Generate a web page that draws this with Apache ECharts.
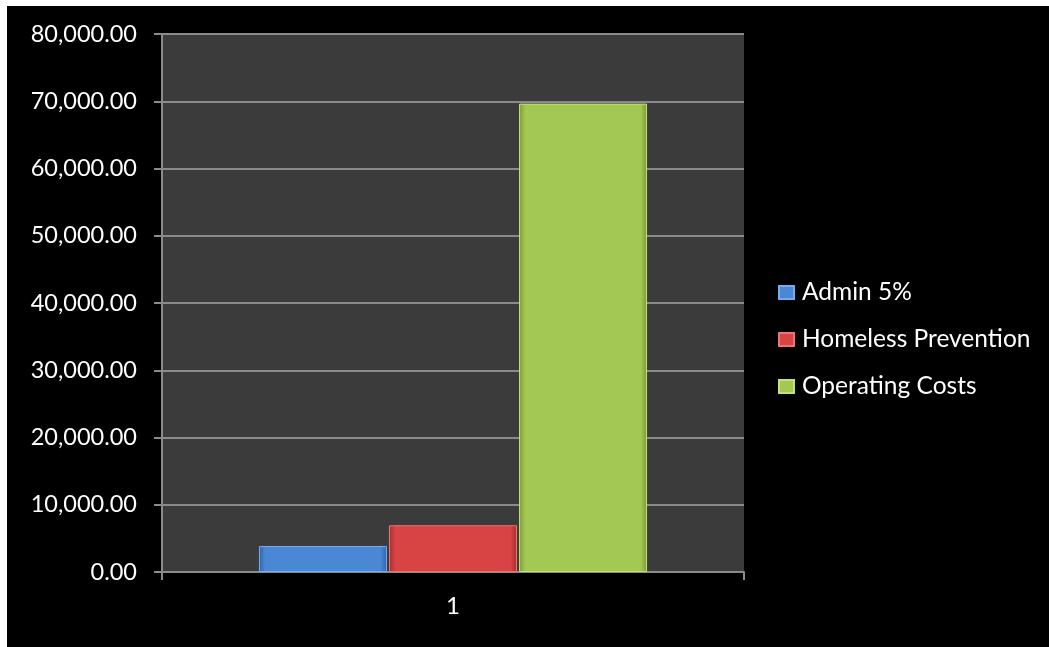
<!DOCTYPE html>
<html>
<head>
<meta charset="utf-8">
<title>Budget by category</title>
<script src="https://cdn.jsdelivr.net/npm/echarts@6/dist/echarts.min.js"></script>
<style>
  html, body { margin: 0; padding: 0; background: #000; }
  #chart { width: 1049px; height: 647px; }
</style>
</head>
<body>
<div id="chart"></div>
<script>
// Category and series values
const categories = ['1'];
const seriesNames = ['Admin 5%', 'Homeless Prevention', 'Operating Costs'];
const adminValues = [3870];
const homelessValues = [6950];
const operatingValues = [69650];

// Base, light and dark shades for each series
const palettes = [
  { base: '#4a88d6', light: '#74acf0', dark: '#2f63a8' },
  { base: '#d84444', light: '#f07272', dark: '#a82c2c' },
  { base: '#a3c854', light: '#c2e27a', dark: '#7b9a36' }
];

const FONT = 'Lato, "Open Sans", sans-serif';

function bevel(p) {
  return new echarts.graphic.LinearGradient(0, 0, 1, 0, [
    { offset: 0, color: p.dark },
    { offset: 0.05, color: p.base },
    { offset: 0.95, color: p.base },
    { offset: 1, color: p.dark }
  ]);
}

function fmt(v) {
  return Number(v).toLocaleString('en-US', { minimumFractionDigits: 2, maximumFractionDigits: 2 });
}

const valueSets = [adminValues, homelessValues, operatingValues];

const chart = echarts.init(document.getElementById('chart'), null, { renderer: 'canvas' });
chart.setOption({
  backgroundColor: '#000',
  animation: false,
  graphic: [
    { type: 'rect', shape: { x: 0, y: 0, width: 1049, height: 6 }, style: { fill: '#fff' }, z: 100 },
    { type: 'rect', shape: { x: 0, y: 0, width: 7, height: 647 }, style: { fill: '#fff' }, z: 100 }
  ],
  grid: {
    left: 162, right: 305, top: 34, bottom: 75,
    show: true, backgroundColor: '#3b3b3b', borderWidth: 0
  },
  legend: {
    orient: 'vertical',
    left: 778, top: 280,
    padding: 0,
    itemWidth: 15, itemHeight: 13,
    itemGap: 22,
    icon: 'rect',
    textStyle: { color: '#fff', fontSize: 24.5, fontFamily: FONT, padding: [0, 0, 0, 3] },
    data: seriesNames
  },
  xAxis: {
    type: 'category',
    data: categories,
    axisLine: { lineStyle: { color: '#8a8a8a', width: 2 } },
    axisTick: { show: true, length: 8, lineStyle: { color: '#8a8a8a', width: 2 } },
    axisLabel: { color: '#fff', fontSize: 24, fontFamily: FONT, margin: 22 }
  },
  yAxis: {
    type: 'value',
    min: 0, max: 80000, interval: 10000,
    axisLine: { show: true, lineStyle: { color: '#8a8a8a', width: 2 } },
    axisTick: { show: true, length: 8, lineStyle: { color: '#8a8a8a', width: 2 } },
    splitLine: { show: true, lineStyle: { color: '#8a8a8a', width: 2 } },
    axisLabel: { color: '#fff', fontSize: 23.5, fontFamily: FONT, margin: 25, formatter: fmt }
  },
  series: seriesNames.map((name, i) => ({
    name: name,
    type: 'bar',
    data: valueSets[i],
    barWidth: 128,
    barGap: '1.6%',
    itemStyle: {
      color: bevel(palettes[i]),
      borderColor: palettes[i].light,
      borderWidth: 1
    }
  }))
});
</script>
</body>
</html>
